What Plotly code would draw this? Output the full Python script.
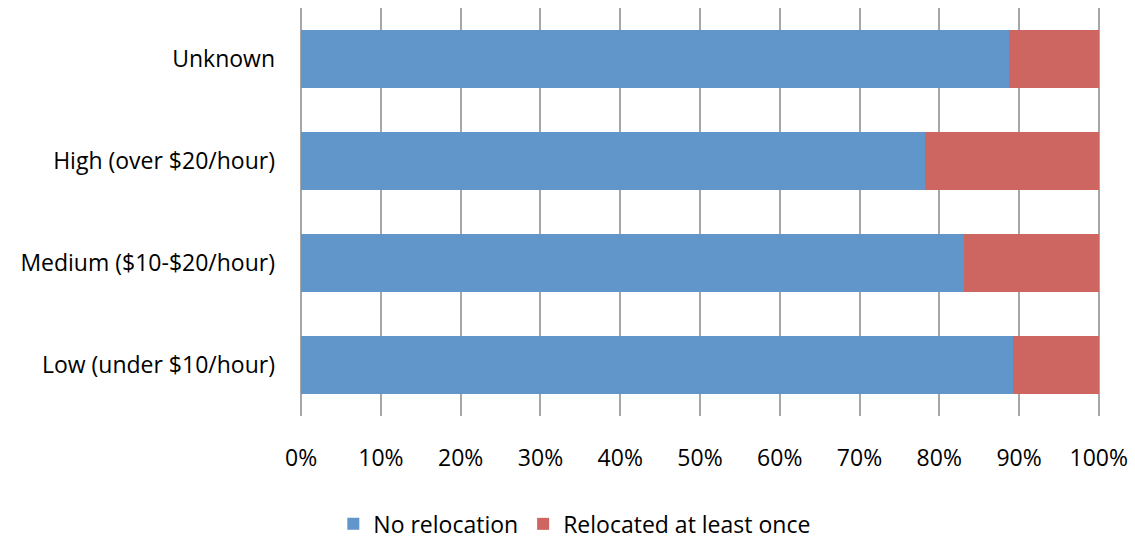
import plotly.graph_objects as go

categories = ["Low (under $10/hour)", "Medium ($10-$20/hour)", "High (over $20/hour)", "Unknown"]
no_relocation = [0.892, 0.831, 0.782, 0.8875]
relocated = [round(1 - v, 4) for v in no_relocation]

BLUE = "#6096CA"
RED = "#CD6661"
FONT = "'Open Sans', Lato, Arial, sans-serif"

fig = go.Figure()
fig.add_trace(go.Bar(
    y=categories, x=no_relocation, orientation="h",
    name="No relocation", marker=dict(color=BLUE, line=dict(width=0)),
))
fig.add_trace(go.Bar(
    y=categories, x=relocated, orientation="h",
    name="Relocated at least once", marker=dict(color=RED, line=dict(width=0)),
))

fig.update_layout(
    barmode="stack",
    bargap=0.43,
    width=1135, height=539,
    margin=dict(l=300, r=35, t=8, b=123),
    paper_bgcolor="white", plot_bgcolor="white",
    font=dict(family=FONT, size=23, color="#000000"),
    legend=dict(
        orientation="h", traceorder="normal",
        xref="container", yref="container",
        x=0.506, xanchor="center", y=0.028, yanchor="middle",
        font=dict(size=23), itemwidth=30,
    ),
    xaxis=dict(
        range=[-0.0015, 1.0015], tickvals=[i / 10 for i in range(11)],
        tickformat=".0%",
        showgrid=True, gridcolor="#A6A6A6", gridwidth=2,
        zeroline=False, showline=False, ticks="",
        ticklabelstandoff=26,
    ),
    yaxis=dict(
        showgrid=False, zeroline=False, showline=False, ticks="",
        ticklabelstandoff=24,
    ),
)

fig.write_html("out.html")
